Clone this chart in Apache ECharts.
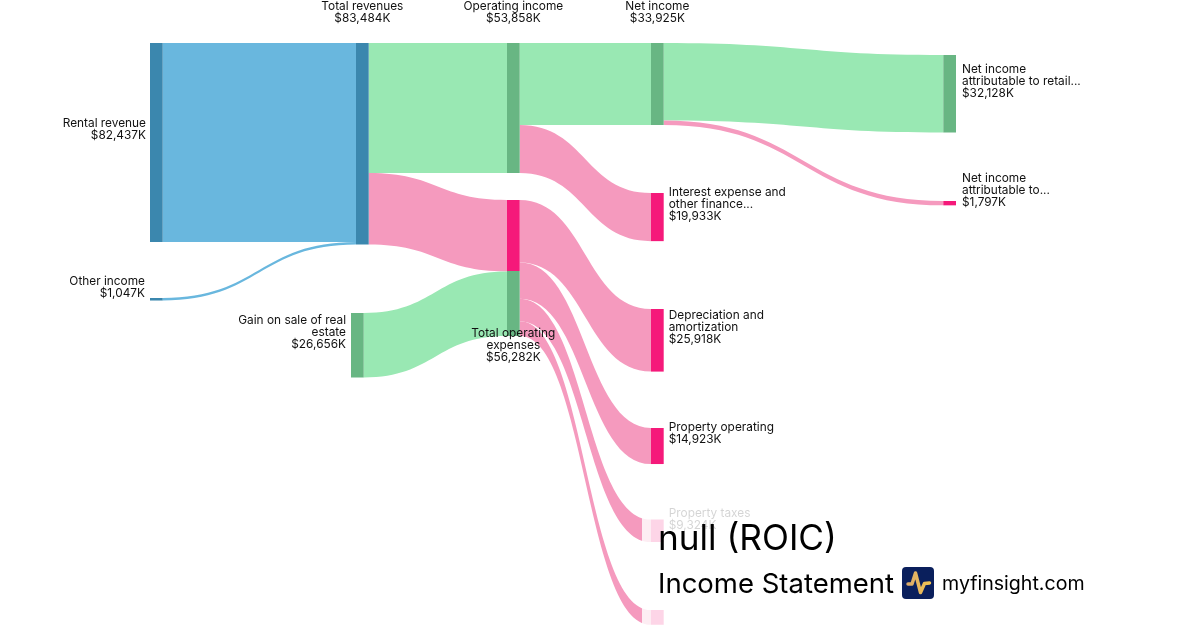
<!DOCTYPE html>
<html>
<head>
<meta charset="utf-8">
<title>Income Statement</title>
<style>
  html, body { margin: 0; padding: 0; background: #fff; }
  #main { width: 1200px; height: 630px; }
</style>
<script src="https://cdn.jsdelivr.net/npm/echarts@6/dist/echarts.min.js"></script>
</head>
<body>
<div id="main"></div>
<script>
// values in $ thousands
const nodeNames = [
  'Rental revenue', 'Other income', 'Gain on sale of real\nestate',
  'Total revenues',
  'Operating income', 'Total operating\nexpenses',
  'Net income', 'Interest expense and\nother finance...', 'Depreciation and\namortization',
  'Property operating', 'Property taxes', 'Other expenses',
  'Net income\nattributable to retail...', 'Net income\nattributable to...'
];
const nodeValues = [82437, 1047, 26656, 83484, 53858, 56282, 33925, 19933, 25918, 14923, 9324, 6117, 32128, 1797];

const linkSources = [0, 1, 3, 3, 2, 4, 4, 5, 5, 5, 5, 6, 6];
const linkTargets = [3, 3, 4, 5, 5, 6, 7, 8, 9, 10, 11, 12, 13];
const linkValues = [82437, 1047, 53858, 29626, 26656, 33925, 19933, 25918, 14923, 9324, 6117, 32128, 1797];

// layout and look, per node (same order as nodeNames)
const nodeX = [150, 150, 351, 356, 507, 507, 651, 651, 651, 651, 651, 651, 943.3, 943.3];
const nodeY = [43, 298, 313, 43, 43, 200, 43, 193, 309, 428, 519.5, 610, 55, 201];
const labelSide = ['left', 'left', 'left', 'top', 'top', 'bottom', 'top', 'right', 'right', 'right', 'right', 'none', 'right', 'right'];
const labelNudge = [[1, 0], [0, 1], [0, 0], [0, 0], [0, 0], [0, 1], [0, 0], [0, 0], [0, 0], [0, 0], [0, 1.5], [0, 0], [1, 1], [1, 0]];
const nodeKind = ['blue', 'blue', 'green', 'blue', 'green', 'split', 'green', 'pink', 'pink', 'pink', 'pink', 'pink', 'green', 'pink'];
const linkKind = ['blue', 'blue', 'green', 'pink', 'green', 'green', 'pink', 'pink', 'pink', 'pink', 'pink', 'green', 'pink'];

const nodeColors = {
  blue: '#3b87ae',
  green: '#68b683',
  pink: '#f5197a',
  split: {
    type: 'linear', x: 0, y: 0, x2: 0, y2: 1,
    colorStops: [
      { offset: 0, color: '#f5197a' },
      { offset: 0.526, color: '#f5197a' },
      { offset: 0.526, color: '#68b683' },
      { offset: 1, color: '#68b683' }
    ]
  }
};
const linkColors = { blue: '#69b7de', green: '#99e8b3', pink: '#f59abe' };

const W = 1200;
const H = 306;
const money = (v) => '$' + v.toLocaleString('en-US') + 'K';

function nodeLabel(i) {
  const side = labelSide[i];
  if (side === 'none') return { show: false };
  const nudge = labelNudge[i];
  if (side === 'top') return { show: true, position: side, distance: 19, offset: nudge };
  const base = side === 'bottom' ? -14 : -13;
  return { show: true, position: side, distance: 5, offset: [nudge[0], base + nudge[1]] };
}

const chart = echarts.init(document.getElementById('main'), null, { renderer: 'canvas' });

chart.setOption({
  animation: false,
  backgroundColor: '#fff',
  textStyle: { fontFamily: 'Inter' },
  series: [
    {
      type: 'sankey',
      left: 0,
      top: 0,
      width: W,
      height: H,
      nodeWidth: 12.7,
      nodeGap: 8,
      nodeAlign: 'left',
      layoutIterations: 0,
      draggable: false,
      emphasis: { disabled: true },
      label: {
        fontFamily: 'Inter',
        fontSize: 11.85,
        lineHeight: 12,
        color: '#111',
        formatter: (p) => p.name + '\n' + money(p.value)
      },
      data: nodeNames.map((name, i) => ({
        name: name,
        value: nodeValues[i],
        localX: nodeX[i] / W,
        localY: nodeY[i] / H,
        itemStyle: { color: nodeColors[nodeKind[i]], opacity: 1, borderWidth: 0 },
        label: nodeLabel(i)
      })),
      links: linkValues.map((value, i) => ({
        source: nodeNames[linkSources[i]],
        target: nodeNames[linkTargets[i]],
        value: value,
        lineStyle: { color: linkColors[linkKind[i]], opacity: 1, curveness: 0.5 }
      }))
    }
  ],
  graphic: [
    // white wash behind the title block
    { type: 'rect', z: 100, silent: true, shape: { x: 642, y: 500, width: 558, height: 130 }, style: { fill: 'rgba(255,255,255,0.82)' } },
    { type: 'text', z: 101, silent: true, x: 658, y: 539, style: { text: 'null (ROIC)', fontFamily: 'Inter', fontSize: 35.2, fill: '#000', textVerticalAlign: 'middle' } },
    { type: 'text', z: 101, silent: true, x: 658, y: 585, style: { text: 'Income Statement', fontFamily: 'Inter', fontSize: 27.5, fill: '#000', textVerticalAlign: 'middle' } },
    { type: 'rect', z: 101, silent: true, shape: { x: 902, y: 567, width: 32, height: 32, r: 4 }, style: { fill: '#0a1f5c' } },
    {
      type: 'polyline', z: 102, silent: true,
      shape: { points: [[908, 584], [912, 584], [915.5, 573], [920.5, 592.5], [924.5, 583.5], [929.5, 583]] },
      style: {
        fill: 'none', lineWidth: 3.5, lineCap: 'round', lineJoin: 'round',
        stroke: {
          type: 'linear', x: 0, y: 0, x2: 1, y2: 0,
          colorStops: [{ offset: 0, color: '#d9a86c' }, { offset: 1, color: '#f4c64f' }]
        }
      }
    },
    { type: 'text', z: 101, silent: true, x: 942, y: 584, style: { text: 'myfinsight.com', fontFamily: 'Inter', fontSize: 19.6, fill: '#000', textVerticalAlign: 'middle' } }
  ]
});
</script>
</body>
</html>
